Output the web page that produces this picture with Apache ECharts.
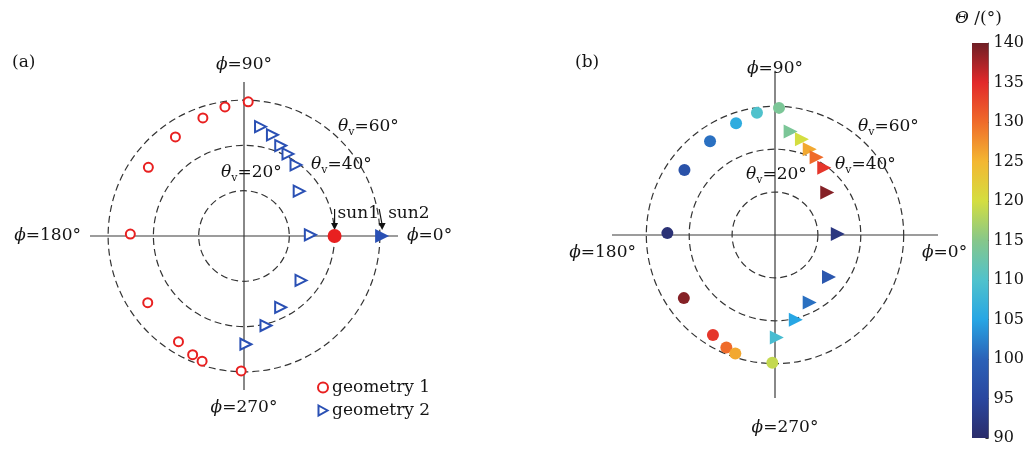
<!DOCTYPE html>
<html>
<head>
<meta charset="utf-8">
<script src="https://cdn.jsdelivr.net/npm/echarts@6/dist/echarts.min.js"></script>
<style>
  html, body { margin: 0; padding: 0; background: #fff; }
  #chart { width: 1027px; height: 450px; }
</style>
</head>
<body>
<div id="chart"></div>
<script>
// viewing zenith (theta_v, deg) and azimuth (phi, deg) of each geometry
const geo1R = [59.3, 57.6, 55.2, 53.2, 52.0, 50.2, 51.7, 54.9, 57.1, 58.3, 59.6];
const geo1Phi = [88.2, 98.4, 109.2, 124.7, 144.3, 179.0, 214.7, 238.2, 246.6, 251.5, 268.8];
const geo2R = [48.8, 46.4, 43.1, 41.1, 38.9, 31.4, 29.3, 31.9, 35.4, 40.7, 47.8];
const geo2Phi = [81.4, 74.3, 67.9, 61.8, 53.8, 39.1, 1.0, 322.1, 297.2, 283.8, 271.0];
// scattering angle Theta (deg) of each point, panel (b)
const geo1Theta = [114, 110, 106, 101, 97, 91, 139, 134, 130, 126, 119];
const geo2Theta = [114, 120, 126, 130, 134, 139, 92, 98, 101, 105, 109];
// sun positions
const sunNames = ['sun1', 'sun2'];
const sunR = [40, 61];
const sunPhi = [0, 0];

const phiTicks = [0, 90, 180, 270];
const thetaRings = [20, 40, 60];
const cbarTicks = [90, 95, 100, 105, 110, 115, 120, 125, 130, 135, 140];
const cbarColors = ['#2b2d6b', '#2a479f', '#2b62b8', '#27a6e4', '#50c2cc', '#86c78a',
                    '#d4de40', '#f3b732', '#ef6b2a', '#e2292b', '#6e1f25'];

const FONT = 'DejaVu Serif';
const INK = '#141414';
const RED = '#e82020';
const BLUE = '#2a50b4';

const chart = echarts.init(document.getElementById('chart'));

function pairs(r, phi) { return r.map((v, i) => [v, phi[i]]); }
function triples(r, phi, t) { return r.map((v, i) => [v, phi[i], t[i]]); }

function phiText(v) { return '{i|ϕ}=' + v + '°'; }
function thetaText(v) { return '{i|θ}{s|v}=' + v + '°'; }

const richIt = {
    i: { fontStyle: 'italic', fontFamily: FONT, fontSize: 17, color: INK },
    s: { fontFamily: FONT, fontSize: 11, color: INK, padding: [10, 0, 0, 0] }
};

function ringColors(max) {
    const ticks = [0].concat(thetaRings).concat([max]);
    return ticks.map(v => thetaRings.indexOf(v) >= 0 ? '#333' : 'rgba(0,0,0,0)');
}

function makeAngleAxis(idx, showLabels) {
    return {
        polarIndex: idx, type: 'value', min: 0, max: 360, interval: 90,
        startAngle: 0, clockwise: false,
        axisLine: { show: false }, axisTick: { show: false },
        splitLine: { show: true, lineStyle: { color: '#3a3a3a', width: 1.2 } },
        axisLabel: {
            show: showLabels, margin: 9,
            fontFamily: FONT, fontSize: 17, color: INK,
            formatter: v => phiTicks.indexOf(v) >= 0 ? phiText(v) : '',
            rich: richIt
        }
    };
}

function makeRadiusAxis(idx, max) {
    return {
        polarIndex: idx, type: 'value', min: 0, max: max, interval: 20,
        axisLine: { show: false }, axisTick: { show: false }, axisLabel: { show: false },
        splitLine: { show: true, lineStyle: { color: ringColors(max), type: [7, 4], width: 1.2 } }
    };
}

const R_MAX_A = 68, R_MAX_B = 76;

const stops = cbarTicks.map((v, i) => ({ offset: (140 - v) / 50, color: cbarColors[i] })).reverse();

function label(x, y, text, align, vAlign, size) {
    return {
        type: 'text', x: x, y: y, silent: true,
        style: { text: text, fontFamily: FONT, fontSize: size || 17, fill: INK,
                 align: align || 'left', verticalAlign: vAlign || 'middle', rich: richIt }
    };
}

chart.setOption({
    animation: false,
    backgroundColor: '#fff',
    polar: [
        { center: [244, 236], radius: 154 },
        { center: [775, 235], radius: 163 }
    ],
    angleAxis: [makeAngleAxis(0, true), makeAngleAxis(1, false)],
    radiusAxis: [makeRadiusAxis(0, R_MAX_A), makeRadiusAxis(1, R_MAX_B)],
    grid: [{ left: 972, top: 43, width: 18, height: 395 }],
    xAxis: [{ type: 'category', gridIndex: 0, data: ['Θ'], show: false }],
    yAxis: [{
        type: 'value', gridIndex: 0, min: 90, max: 140, interval: 5, startValue: 90,
        position: 'right',
        axisLine: { show: true, lineStyle: { color: '#777' } },
        axisTick: { show: true, inside: true, length: 3, lineStyle: { color: '#333' } },
        axisLabel: { margin: 5, fontFamily: FONT, fontSize: 16, color: INK },
        splitLine: { show: false }
    }],
    visualMap: {
        type: 'continuous', show: false, min: 90, max: 140, dimension: 2,
        seriesIndex: [3, 4], inRange: { color: cbarColors }
    },
    legend: {
        orient: 'vertical', left: 317, top: 379, padding: 0, itemGap: 6,
        itemWidth: 10, itemHeight: 10,
        data: [
            { name: 'geometry 1' },
            { name: 'geometry 2', icon: 'path://M0,0L9,5L0,10Z',
              itemStyle: { color: '#fff', borderColor: BLUE, borderWidth: 2 } }
        ],
        textStyle: { fontFamily: FONT, fontSize: 17, color: INK, padding: [0, 0, 0, -1] }
    },
    series: [
        {
            name: 'geometry 1', type: 'scatter', coordinateSystem: 'polar', polarIndex: 0,
            symbol: 'emptyCircle', symbolSize: 9,
            itemStyle: { color: RED, borderWidth: 2, opacity: 1 },
            data: pairs(geo1R, geo1Phi)
        },
        {
            name: 'geometry 2', type: 'scatter', coordinateSystem: 'polar', polarIndex: 0,
            symbol: 'emptyTriangle', symbolRotate: -90, symbolSize: 11,
            itemStyle: { color: BLUE, borderWidth: 2, opacity: 1 },
            data: pairs(geo2R, geo2Phi)
        },
        {
            name: 'sun', type: 'scatter', coordinateSystem: 'polar', polarIndex: 0,
            z: 3,
            data: sunR.map((r, i) => i === 0
                ? { name: sunNames[i], value: [r, sunPhi[i]], symbol: 'circle', symbolSize: 14, itemStyle: { color: RED, opacity: 1 } }
                : { name: sunNames[i], value: [r, sunPhi[i]], symbol: 'triangle', symbolRotate: -90, symbolSize: 14, itemStyle: { color: BLUE, opacity: 1 } })
        },
        {
            name: 'Θ geometry 1', type: 'scatter', coordinateSystem: 'polar', polarIndex: 1,
            symbol: 'circle', symbolSize: 12, itemStyle: { opacity: 1 },
            data: triples(geo1R, geo1Phi, geo1Theta)
        },
        {
            name: 'Θ geometry 2', type: 'scatter', coordinateSystem: 'polar', polarIndex: 1,
            symbol: 'triangle', symbolRotate: -90, symbolSize: 14, itemStyle: { opacity: 1 },
            data: triples(geo2R, geo2Phi, geo2Theta)
        },
        {
            name: 'colorbar', type: 'bar', xAxisIndex: 0, yAxisIndex: 0, silent: true,
            barWidth: '100%', clip: true,
            itemStyle: { color: new echarts.graphic.LinearGradient(0, 0, 0, 1, stops) },
            data: [140]
        }
    ]
});

// annotations: panel tags, view zenith rings, phi labels of panel (b), sun arrows
const g = [
    label(12, 63, '(a)'),
    label(575, 63, '(b)'),
    label(338, 127, thetaText(60)),
    label(311, 165, thetaText(40)),
    label(221, 173, thetaText(20)),
    label(858, 127, thetaText(60)),
    label(835, 165, thetaText(40)),
    label(746, 175, thetaText(20)),
    label(775, 69, phiText(90), 'center'),
    label(636, 253, phiText(180), 'right'),
    label(922, 253, phiText(0), 'left'),
    label(785, 428, phiText(270), 'center'),
    label(955, 19, '{i|Θ} /(°)')
];

const sunTextDx = [3, 9];
sunR.forEach((r, i) => {
    const p = chart.convertToPixel({ seriesIndex: 2 }, [r, sunPhi[i]]);
    const x0 = p[0] - (i === 0 ? 0 : 3), y0 = p[1] - 27;
    const x1 = p[0], y1 = p[1] - 6;
    g.push({ type: 'line', silent: true, shape: { x1: x0, y1: y0, x2: x1, y2: y1 - 5 },
             style: { stroke: '#111', lineWidth: 1.2 } });
    g.push({ type: 'polygon', silent: true,
             shape: { points: [[x1 - 3.5, y1 - 7], [x1 + 3.5, y1 - 7], [x1, y1]] },
             style: { fill: '#111' } });
    g.push(label(x0 + sunTextDx[i], y0 + 5, sunNames[i]));
});

chart.setOption({ graphic: g });
</script>
</body>
</html>
